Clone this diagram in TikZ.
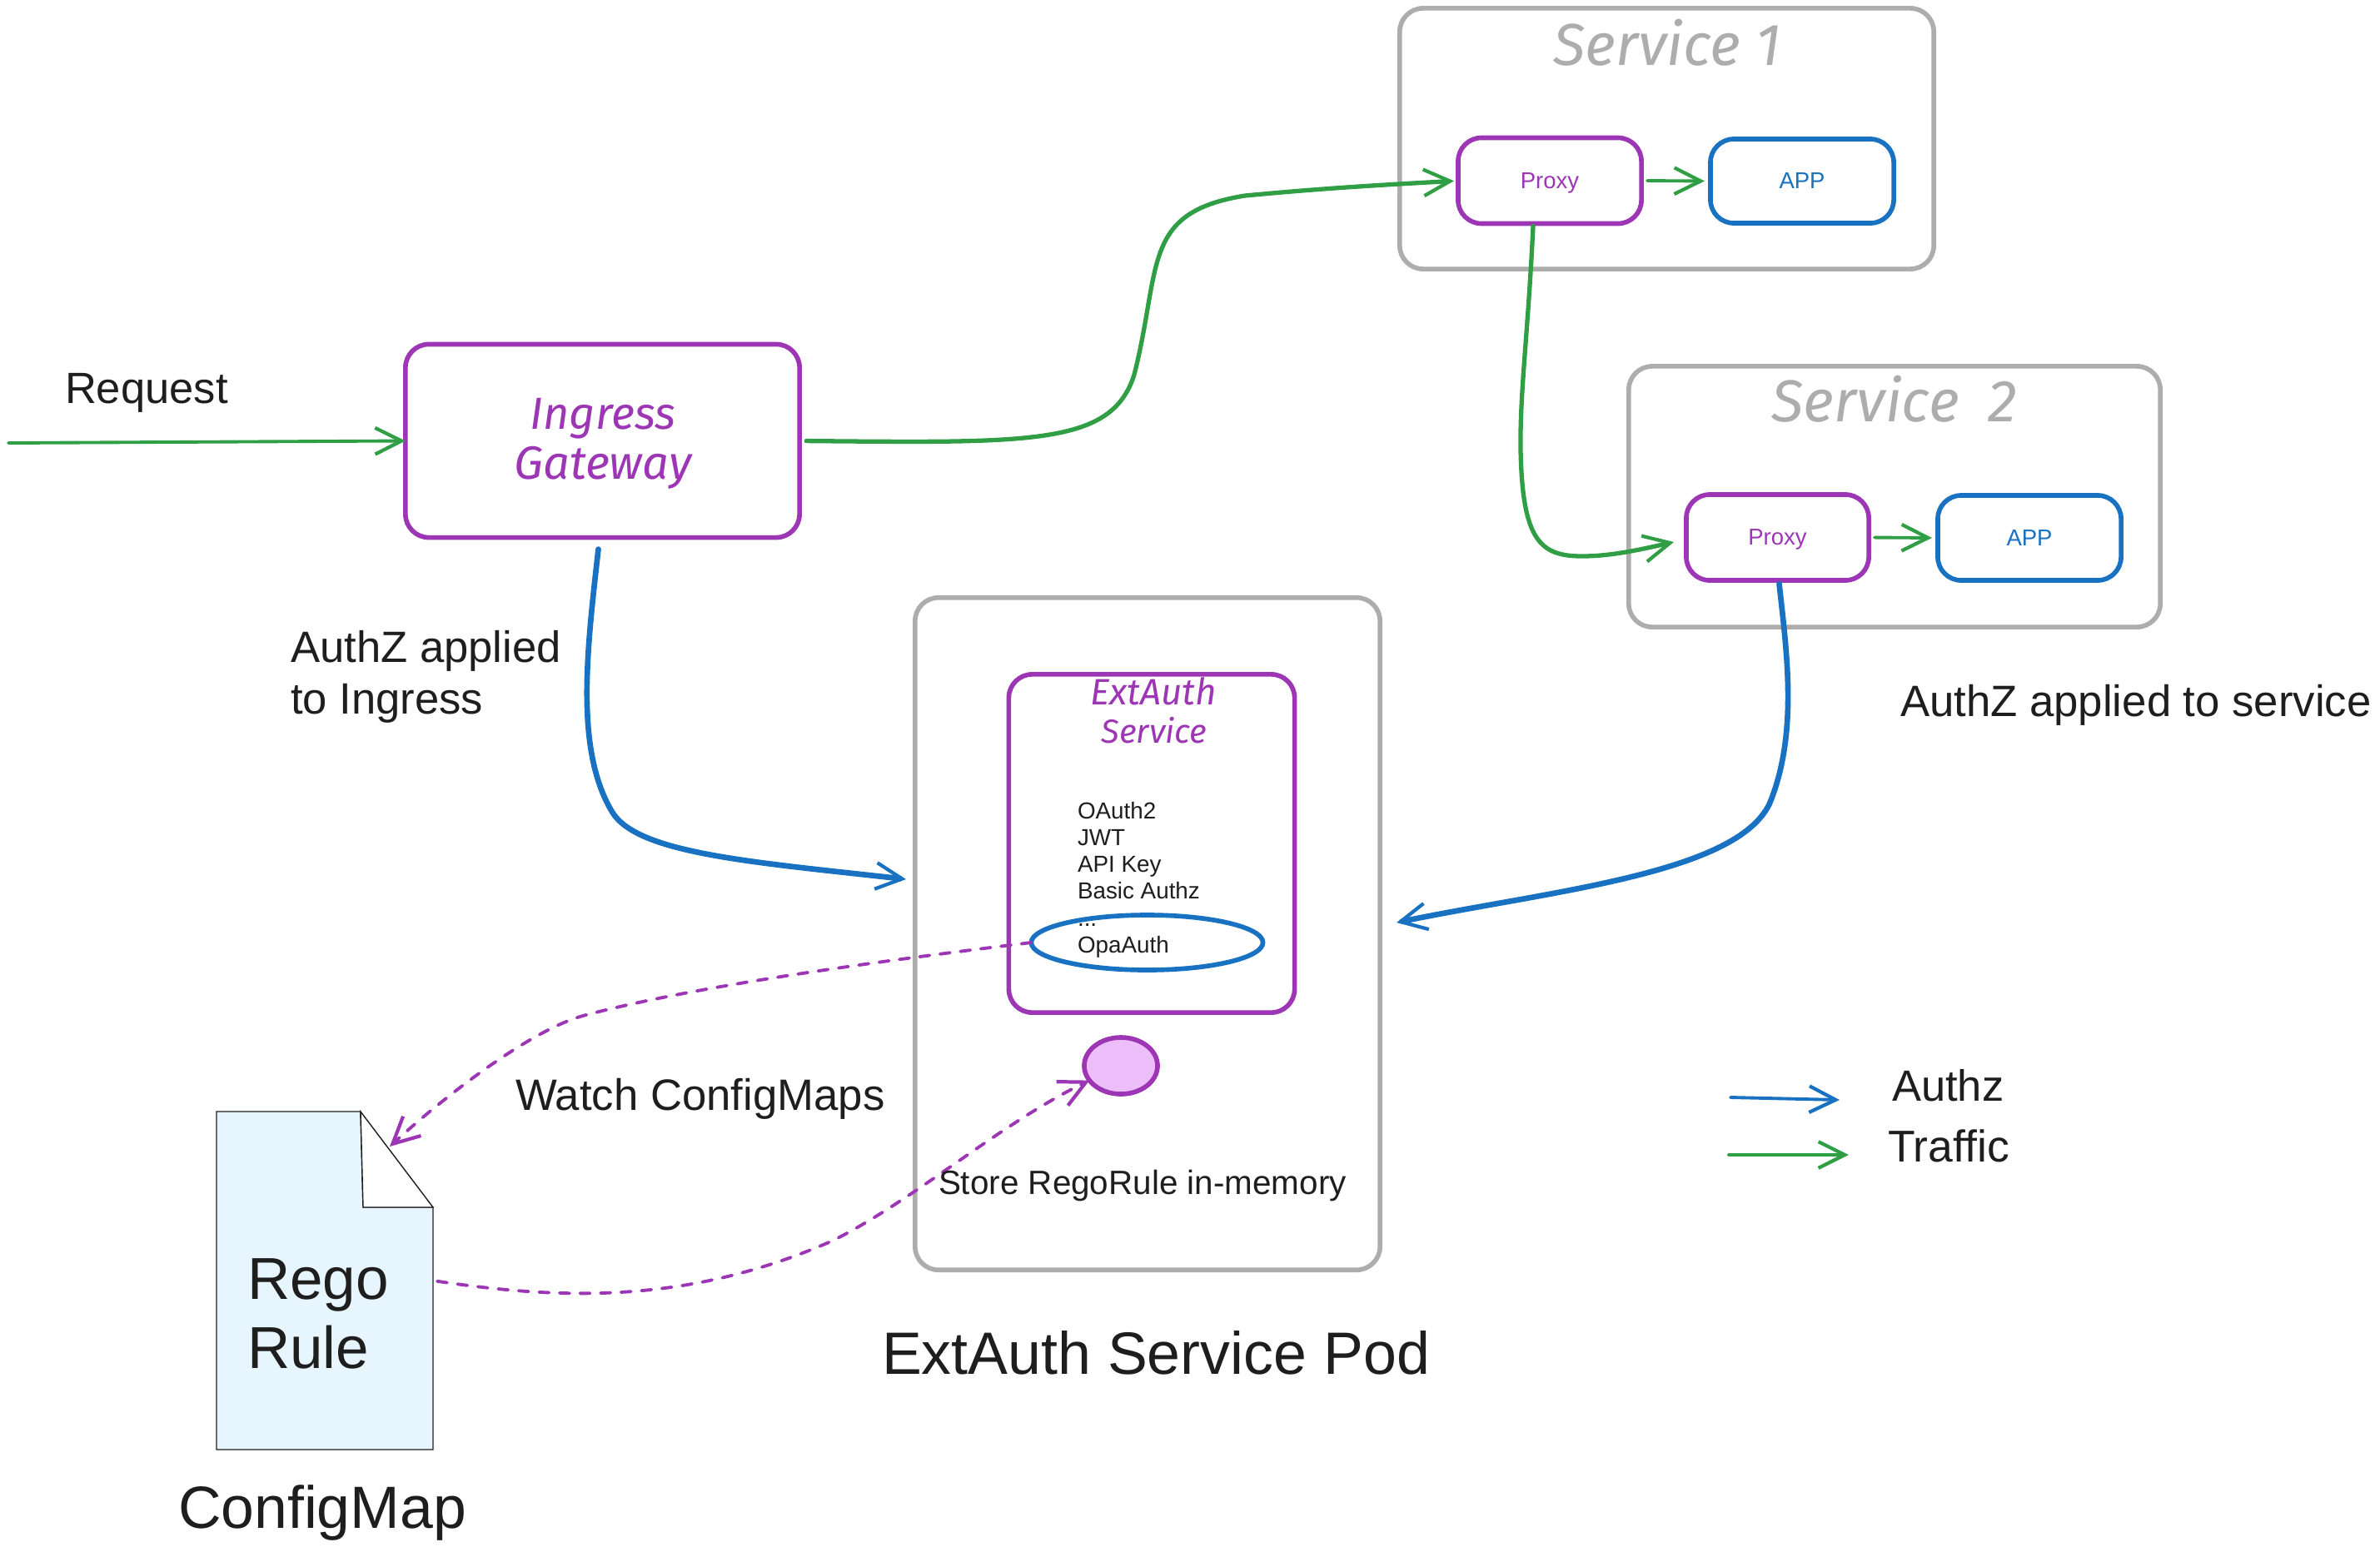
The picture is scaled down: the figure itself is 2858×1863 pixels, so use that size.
\documentclass[tikz,border=0pt]{standalone}
\usepackage{fontspec}
\setmainfont{Liberation Sans}
\newfontfamily\handfont{Fira Sans}[ItalicFont={Fira Sans Italic}]
\usetikzlibrary{arrows.meta,shapes.geometric}
\definecolor{ink}{HTML}{1E1E1E}
\definecolor{plum}{HTML}{9C36B5}
\definecolor{azure}{HTML}{1971C2}
\definecolor{leaf}{HTML}{2F9E44}
\definecolor{ash}{HTML}{ADADAD}
\definecolor{blobfill}{HTML}{EEBEFA}
\definecolor{docfill}{HTML}{E7F5FF}
\newcommand{\fpx}[2]{\fontsize{\fpeval{#1*0.28453}}{\fpeval{#2*0.28453}}\selectfont}
\tikzset{
  every node/.style={inner sep=0pt,outer sep=0pt,text=ink},
  boxbase/.style={draw,fill=white,rectangle,rounded corners=8pt,line width=1.6pt},
  graybox/.style={boxbase,draw=ash},
  purplebox/.style={boxbase,draw=plum,text=plum},
  bluebox/.style={boxbase,draw=azure,text=azure},
  smalltext/.style={font=\fpx{27.5}{32},text height=0.18cm,text depth=0cm},
  lbl/.style={anchor=base west,align=left},
  hand/.style={anchor=base,align=center,text=plum,font=\handfont\itshape},
  barb/.style={-{Straight Barb[length=9pt,width=9pt,line width=1.2pt]},line cap=round},
  traffic/.style={barb,draw=leaf,line width=1.5pt},
  thintraffic/.style={barb,draw=leaf,line width=1.1pt},
  authz/.style={barb,draw=azure,line width=1.9pt},
  thinauthz/.style={barb,draw=azure,line width=1.1pt},
  watch/.style={barb,draw=plum,line width=1.1pt,dash pattern=on 3.4pt off 3.6pt},
}
\begin{document}
\begin{tikzpicture}[x=0.01cm,y=-0.01cm]
\useasboundingbox (0,0) rectangle (2858,1863);

% containers
\node[graybox,minimum width=6.41cm,minimum height=3.13cm] (svc1) at (2001.5,166.5) {};
\node[graybox,minimum width=6.38cm,minimum height=3.13cm] (svc2) at (2275,596.5) {};
\node[graybox,minimum width=5.58cm,minimum height=8.07cm] (pod) at (1378,1121.5) {};

% service boxes
\node[purplebox,smalltext,minimum width=2.20cm,minimum height=1.03cm] (proxya) at (1861,217) {Proxy};
\node[bluebox,smalltext,minimum width=2.20cm,minimum height=1.01cm] (appa) at (2164,217.5) {APP};
\node[purplebox,smalltext,minimum width=2.19cm,minimum height=1.03cm] (proxyb) at (2134.5,645.5) {Proxy};
\node[bluebox,smalltext,minimum width=2.20cm,minimum height=1.02cm] (appb) at (2437,646) {APP};
\node[purplebox,minimum width=4.73cm,minimum height=2.32cm] (gw) at (723.5,529.5) {};
\node[purplebox,minimum width=3.43cm,minimum height=4.06cm] (ext) at (1383,1013) {};

% titles in hand style
\node[hand,text=ash] (t1) at (2002,78) {\fpx{71}{70}Service 1};
\node[hand,text=ash] (t2) at (2275,506) {\fpx{71}{70}Service\hspace{10pt}2};
\node[hand] (t3) at (724,515) {\fpx{54}{58}Ingress};
\node[hand] (t4) at (724,575) {\fpx{56}{58}Gateway};
\node[hand] (t5) at (1385,846) {\fpx{44}{46}ExtAuth};
\node[hand] (t6) at (1386,892) {\fpx{40}{46}Service};

% auth list and highlight
\node[lbl,font=\fpx{27.8}{32}] (list) at (1294,1144) {OAuth2\\JWT\\API Key\\Basic Authz\\...\\OpaAuth};
\node[ellipse,draw=azure,line width=1.6pt,minimum width=2.78cm,minimum height=0.66cm] (opa) at (1377.5,1132) {};
\node[ellipse,draw=plum,fill=blobfill,line width=1.6pt,minimum width=0.88cm,minimum height=0.68cm] (blob) at (1346,1280) {};

% document
\node[rectangle,minimum width=2.60cm,minimum height=4.06cm] (doc) at (390,1538) {};
\draw[ink,line width=0.4pt,fill=docfill] (260,1335) -- (433,1335) -- (436,1450) -- (520,1450) -- (520,1741) -- (260,1741) -- cycle;
\draw[ink,line width=0.4pt,fill=white] (433,1335) -- (520,1450) -- (436,1450) -- cycle;
\coordinate (fold) at (468,1377);
\node[lbl,font=\fpx{71}{82}] (rego) at (297,1643) {Rego\\Rule};

% free ends
\coordinate (reqstart) at (10,532);
\coordinate (lega) at (2078,1318);
\coordinate (legaend) at (2209,1321);
\coordinate (legb) at (2076,1387);
\coordinate (legbend) at (2220,1387);

% connectors
\draw[thintraffic] (reqstart) -- (gw.west);
\draw[traffic,shorten <=8*0.2845pt,shorten >=5*0.2845pt] (gw.east) .. controls (1240,532) and (1335,535) .. (1362,450) .. controls (1395,320) and (1370,255) .. (1495,235) .. controls (1600,225) and (1680,221) .. (proxya.west);
\draw[traffic] (proxya.south) ++(-20,3) .. controls (1835,400) and (1825,470) .. (1826,540) .. controls (1828,650) and (1850,668) .. (1900,668) .. controls (1935,668) and (1970,660) .. (2010,651);
\draw[thintraffic,shorten <=2pt,shorten >=2pt] (proxya.east) -- (appa.west);
\draw[thintraffic,shorten <=2pt,shorten >=2pt] (proxyb.east) -- (appb.west);
\draw[authz] (gw.south) ++(-5,14) .. controls (705,780) and (690,900) .. (735,975) .. controls (765,1025) and (900,1035) .. (1088,1056);
\draw[authz] (proxyb.south) ++(2,4) .. controls (2145,780) and (2160,880) .. (2125,965) .. controls (2085,1050) and (1860,1070) .. (1677,1108);
\draw[watch] (opa.west) .. controls (1050,1155) and (830,1185) .. (700,1220) .. controls (635,1238) and (530,1320) .. (fold);
\draw[watch,shorten <=5*0.2845pt] (doc.east) .. controls (680,1562) and (830,1565) .. (1000,1490) .. controls (1100,1440) and (1200,1350) .. (blob.205);
\draw[thinauthz] (lega) -- (legaend);
\draw[thintraffic] (legb) -- (legbend);

% labels
\node[lbl] (req) at (78,484) {\fpx{52.5}{59}Request};
\node[lbl,font=\fpx{52.6}{61}] (ai) at (349,857) {AuthZ applied\\to Ingress};
\node[lbl] (as) at (2282,860) {\fpx{52.7}{59}AuthZ applied to service};
\node[lbl] (wc) at (619,1333) {\fpx{52.7}{59}Watch ConfigMaps};
\node[lbl] (st) at (1127,1434) {\fpx{40.4}{46}Store RegoRule in-memory};
\node[lbl] (pn) at (1059,1650) {\fpx{71.7}{80}ExtAuth Service Pod};
\node[lbl] (cm) at (214,1835) {\fpx{71.5}{80}ConfigMap};
\node[lbl] (la) at (2272,1322) {\fpx{52.5}{59}Authz};
\node[lbl] (lb) at (2267,1395) {\fpx{53.5}{59}Traffic};
\end{tikzpicture}
\end{document}
